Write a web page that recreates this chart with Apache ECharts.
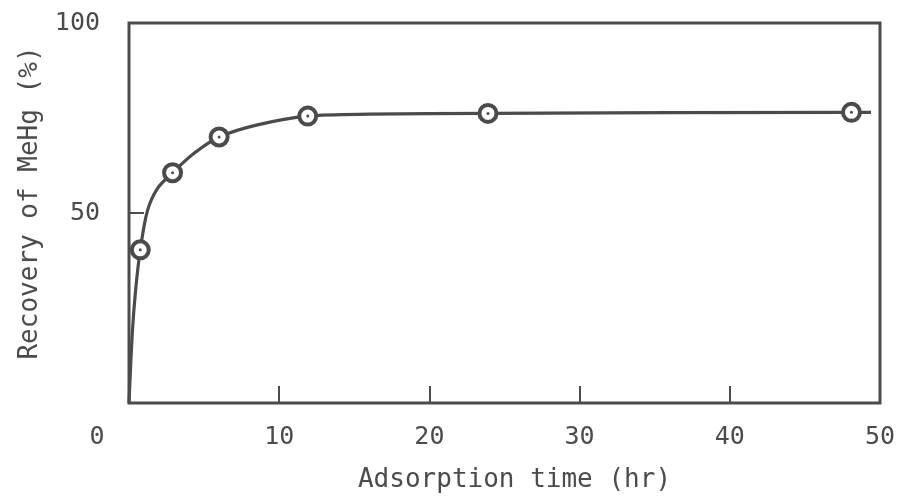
<!DOCTYPE html>
<html>
<head>
<meta charset="utf-8">
<script src="https://cdn.jsdelivr.net/npm/echarts@6/dist/echarts.min.js"></script>
<style>
  html, body { margin: 0; padding: 0; background: #fff; }
  #chart { width: 900px; height: 500px; }
</style>
</head>
<body>
<div id="chart"></div>
<script>
// measured points (hr, %)
const hours = [0.75, 2.9, 6, 11.9, 23.9, 48.1]
const recovery = [40.3, 60.6, 70, 75.5, 76.2, 76.5]

// hand-drawn curve, points
const curveHours = [0, 0.22, 0.44, 0.75, 1.22, 1.9, 2.9, 4.33, 6, 8.55, 11.9, 16, 23.9, 48.1, 49.4]
const curveRecovery = [0, 18.4, 29.7, 40.3, 50.5, 56.5, 60.6, 65.7, 70, 73.2, 75.5, 76, 76.2, 76.5, 76.5]

const xTicks = [10, 20, 30, 40]
const xLabels = [0, 10, 20, 30, 40, 50]
const yTicks = [50]
const yLabels = [50, 100]

const ink = '#4b4b4b'
const font = '"DejaVu Sans Mono", "Liberation Mono", monospace'

const chart = echarts.init(document.getElementById('chart'))

const option = {
  animation: false,
  backgroundColor: '#fff',
  grid: {
    left: 129,
    right: 20,
    top: 23,
    bottom: 97,
    show: true,
    borderColor: ink,
    borderWidth: 3
  },
  xAxis: {
    type: 'value',
    min: 0,
    max: 50,
    name: 'Adsorption time (hr)',
    nameLocation: 'middle',
    nameGap: 64,
    nameTextStyle: { fontFamily: font, fontSize: 26, color: ink, padding: [0, 0, 0, 20] },
    axisLine: { show: false },
    splitLine: { show: false },
    axisTick: {
      show: true,
      inside: true,
      length: 17,
      customValues: xTicks,
      lineStyle: { color: ink, width: 2 }
    },
    axisLabel: {
      customValues: xLabels,
      margin: 22,
      fontFamily: font,
      fontSize: 25,
      color: ink,
      formatter: v => (v === 0 ? '{z|0}' : String(v)),
      rich: {
        z: { fontFamily: font, fontSize: 25, color: ink, padding: [0, 64, 0, 0] }
      }
    }
  },
  yAxis: {
    type: 'value',
    min: 0,
    max: 100,
    name: 'Recovery of MeHg (%)',
    nameLocation: 'middle',
    nameGap: 86,
    nameTextStyle: { fontFamily: font, fontSize: 26, color: ink, padding: [0, 0, 0, 20] },
    axisLine: { show: false },
    splitLine: { show: false },
    axisTick: {
      show: true,
      inside: true,
      length: 15,
      customValues: yTicks,
      lineStyle: { color: ink, width: 2 }
    },
    axisLabel: {
      customValues: yLabels,
      margin: 29,
      fontFamily: font,
      fontSize: 25,
      color: ink
    }
  },
  series: [
    {
      type: 'line',
      data: curveHours.map((h, i) => [h, curveRecovery[i]]),
      smooth: 0.3,
      showSymbol: false,
      lineStyle: { color: ink, width: 3.2 },
      z: 2
    },
    {
      type: 'scatter',
      data: hours.map((h, i) => [h, recovery[i]]),
      symbol: 'circle',
      symbolSize: 17,
      itemStyle: { color: '#fff', borderColor: ink, borderWidth: 4, opacity: 1 },
      z: 3
    },
    {
      type: 'scatter',
      data: hours.map((h, i) => [h, recovery[i]]),
      symbol: 'circle',
      symbolSize: 3,
      itemStyle: { color: ink, opacity: 1 },
      z: 4
    }
  ]
}

chart.setOption(option)
</script>
</body>
</html>
